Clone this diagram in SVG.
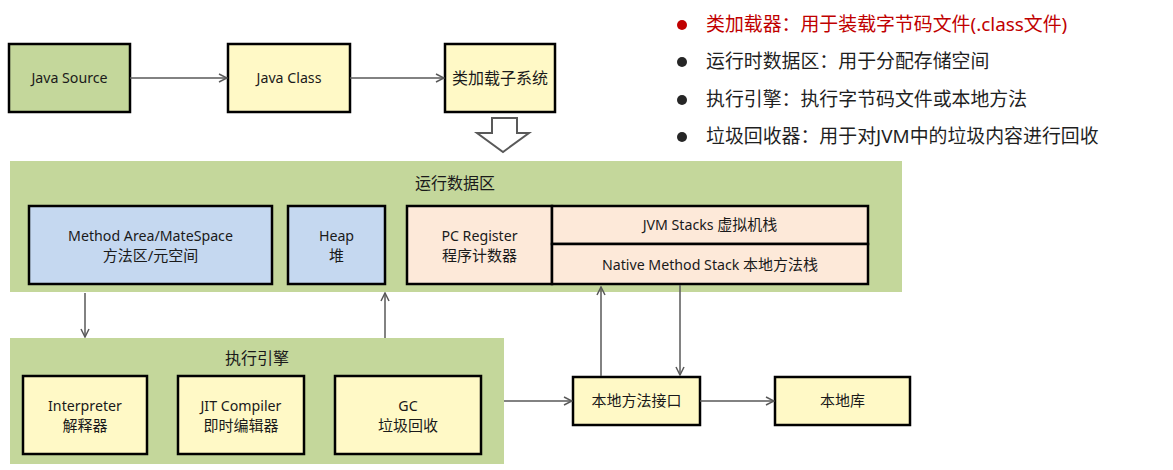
<svg xmlns="http://www.w3.org/2000/svg" width="1173" height="470" viewBox="0 0 1173 470">
<defs>
<marker id="arr" viewBox="0 0 10 10" refX="9" refY="5" markerWidth="10" markerHeight="10" markerUnits="userSpaceOnUse" orient="auto">
<path d="M1,1 L9,5 L1,9" fill="none" stroke="#595959" stroke-width="1.5"/>
</marker>
</defs>
<style>
text{font-family:"Noto Sans","Noto Sans CJK SC",sans-serif;fill:#1a1a1a;text-anchor:middle}
.box{stroke:#000;stroke-width:2.5}
.green{fill:#c4d79b}
.yellow{fill:#fff9c6}
.blue{fill:#c5d8f0}
.peach{fill:#fde9d9}
.t{font-size:14.2px}
.c{font-size:15px}
.big{font-size:16px}
.mid{font-size:15px}
.conn{stroke:#595959;stroke-width:1.5;fill:none;marker-end:url(#arr)}
.li{font-size:18.9px;text-anchor:start;fill:#1f1f1f}
</style>
<rect width="1173" height="470" fill="#fff"/>

<g id="java-source"><rect class="box green" x="9" y="44" width="121" height="68"/><text class="t" x="69.5" y="83">Java Source</text></g>
<g id="java-class"><rect class="box yellow" x="228" y="44" width="122" height="68"/><text class="t" x="289" y="83">Java Class</text></g>
<g id="class-loader"><rect class="box yellow" x="445" y="44" width="110" height="68"/><text class="big" x="500" y="84">类加载子系统</text></g>
<g id="down-arrow"><path d="M492,118 H517 V133 H529 L503,152 L477,133 H492 Z" fill="#fff" stroke="#595959" stroke-width="2"/></g>

<g id="runtime-data-area">
<rect class="green" x="10" y="161" width="892" height="131"/>
<text class="big" x="455" y="189">运行数据区</text>
</g>
<g id="method-area"><rect class="box blue" x="29" y="206" width="243" height="78"/><text class="t" x="150.5" y="241">Method Area/MateSpace</text><text class="c" x="150.5" y="261">方法区/元空间</text></g>
<g id="heap"><rect class="box blue" x="288" y="206" width="97" height="78"/><text class="t" x="336.5" y="241">Heap</text><text class="c" x="336.5" y="261">堆</text></g>
<g id="pc-register"><rect class="box peach" x="407" y="206" width="145" height="78"/><text class="t" x="479.5" y="241">PC Register</text><text class="c" x="479.5" y="261">程序计数器</text></g>
<g id="jvm-stacks"><rect class="box peach" x="552" y="206" width="316" height="38"/><text class="t" x="710" y="230">JVM Stacks <tspan class="c">虚拟机栈</tspan></text></g>
<g id="native-stack"><rect class="box peach" x="552" y="244" width="316" height="40"/><text class="t" x="710" y="270">Native Method Stack <tspan class="c">本地方法栈</tspan></text></g>

<g id="execution-engine">
<rect class="green" x="10" y="338" width="494" height="126"/>
<text class="big" x="257" y="364">执行引擎</text>
</g>
<g id="interpreter"><rect class="box yellow" x="23" y="376" width="124" height="78"/><text class="t" x="85" y="411">Interpreter</text><text class="c" x="85" y="431">解释器</text></g>
<g id="jit"><rect class="box yellow" x="178" y="376" width="126" height="78"/><text class="t" x="241" y="411">JIT Compiler</text><text class="c" x="241" y="431">即时编辑器</text></g>
<g id="gc"><rect class="box yellow" x="335" y="376" width="146" height="78"/><text class="t" x="408" y="411">GC</text><text class="c" x="408" y="431">垃圾回收</text></g>

<g id="native-interface"><rect class="box yellow" x="573" y="377" width="127" height="48"/><text class="mid" x="636.5" y="406">本地方法接口</text></g>
<g id="native-lib"><rect class="box yellow" x="775" y="377" width="135" height="48"/><text class="mid" x="842.5" y="406">本地库</text></g>

<g id="connectors">
<line class="conn" x1="130" y1="78" x2="227" y2="78"/>
<line class="conn" x1="350" y1="78" x2="444" y2="78"/>
<line class="conn" x1="85" y1="293" x2="85" y2="337"/>
<line class="conn" x1="385" y1="338" x2="385" y2="293"/>
<line class="conn" x1="504" y1="401" x2="572" y2="401"/>
<line class="conn" x1="601" y1="376" x2="601" y2="287"/>
<line class="conn" x1="680" y1="285" x2="680" y2="375"/>
<line class="conn" x1="700" y1="401" x2="774" y2="401"/>
</g>

<g id="legend">
<circle cx="682" cy="25" r="5" fill="#c00000"/>
<text class="li" x="706" y="31" style="fill:#c00000">类加载器：用于装载字节码文件(.class文件)</text>
<circle cx="682" cy="62" r="5" fill="#262626"/>
<text class="li" x="706" y="68">运行时数据区：用于分配存储空间</text>
<circle cx="682" cy="100" r="5" fill="#262626"/>
<text class="li" x="706" y="106">执行引擎：执行字节码文件或本地方法</text>
<circle cx="682" cy="137" r="5" fill="#262626"/>
<text class="li" x="706" y="143">垃圾回收器：用于对JVM中的垃圾内容进行回收</text>
</g>
</svg>
